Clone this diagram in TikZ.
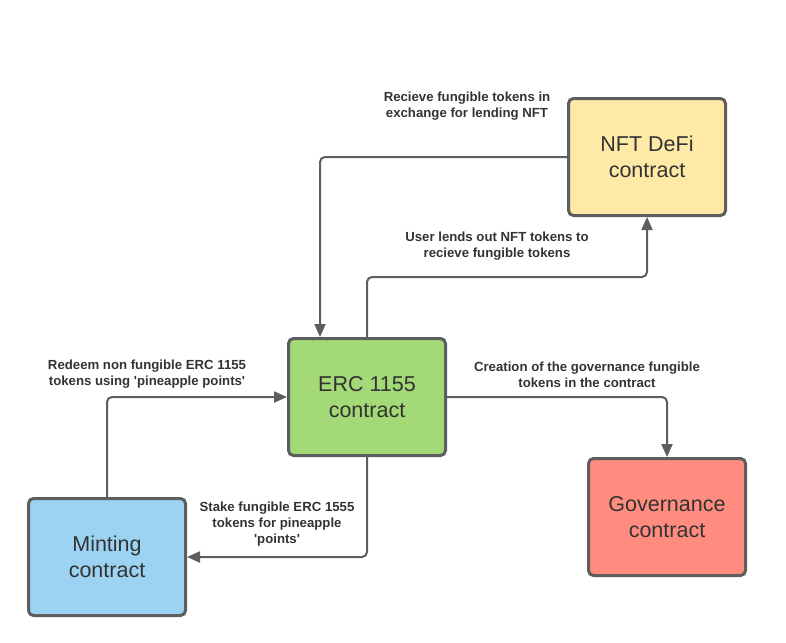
\documentclass[tikz,border=0pt]{standalone}
\usepackage{fontspec}
\setmainfont{Liberation Sans}
\usetikzlibrary{arrows.meta}
\definecolor{strokec}{HTML}{5E5E5E}
\definecolor{textc}{HTML}{333333}
\definecolor{yellowc}{HTML}{FFE9A6}
\definecolor{greenc}{HTML}{A3D977}
\definecolor{bluec}{HTML}{9CD3F3}
\definecolor{redc}{HTML}{FF8C7E}
\tikzset{
  box/.style={draw=strokec, line width=3pt, rounded corners=5pt, minimum width=157pt, minimum height=117pt, align=center, text=textc, font=\fontsize{21.5}{26}\selectfont, inner sep=0pt},
  arr/.style={draw=strokec, line width=2pt, rounded corners=5pt, -{Triangle[length=13pt,width=11pt]}},
  lbl/.style={align=center, text=textc, font=\bfseries\fontsize{13.2}{15.8}\selectfont, inner sep=0pt}
}
\begin{document}
\begin{tikzpicture}[x=1pt,y=-1pt]
\useasboundingbox (0,0) rectangle (786,642);
\node[box, fill=yellowc] (nft) at (647,157) {NFT DeFi\\contract};
\node[box, fill=greenc] (erc) at (367,397) {ERC 1155\\contract};
\node[box, fill=bluec] (mint) at (107,557) {Minting\\contract};
\node[box, fill=redc] (gov) at (667,517) {Governance\\contract};

\draw[arr] (nft.west) -| ([xshift=-47pt]erc.north);
\draw[arr] (erc.north) -- ++(0,-60) -| (nft.south);
\draw[arr] (erc.east) -| (gov.north);
\draw[arr] (mint.north) |- (erc.west);
\draw[arr] (erc.south) |- (mint.east);

\node[lbl] (l1) at (467,106) {Recieve fungible tokens in\\exchange for lending NFT};
\node[lbl] (l2) at (497,246) {User lends out NFT tokens to\\recieve fungible tokens};
\node[lbl] (l3) at (587,375) {Creation of the governance fungible\\tokens in the contract};
\node[lbl] (l4) at (147,374) {Redeem non fungible ERC 1155\\tokens using \textquotesingle pineapple points\textquotesingle};
\node[lbl] (l5) at (277,524) {Stake fungible ERC 1555\\tokens for pineapple\\\textquotesingle points\textquotesingle};
\end{tikzpicture}
\end{document}
